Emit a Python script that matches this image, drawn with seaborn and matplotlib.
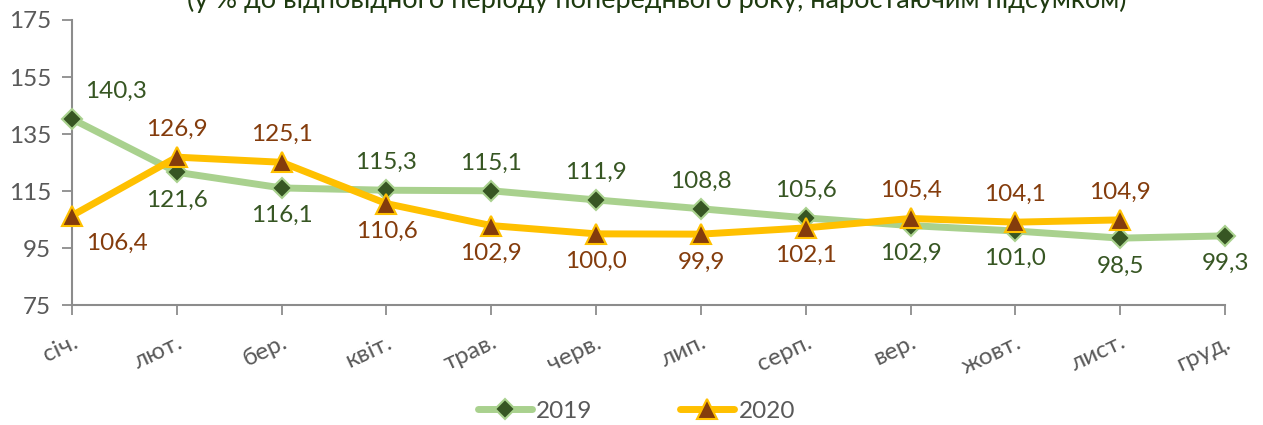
import matplotlib
matplotlib.use("Agg")
import matplotlib.pyplot as plt
import seaborn as sns
import pandas as pd

months = ["січ.", "лют.", "бер.", "квіт.", "трав.", "черв.",
          "лип.", "серп.", "вер.", "жовт.", "лист.", "груд."]
values_2019 = [140.3, 121.6, 116.1, 115.3, 115.1, 111.9, 108.8, 105.6, 102.9, 101.0, 98.5, 99.3]
values_2020 = [106.4, 126.9, 125.1, 110.6, 102.9, 100.0, 99.9, 102.1, 105.4, 104.1, 104.9]
# label placement: 1 above, -1 below
pos_2019 = [1, -1, -1, 1, 1, 1, 1, 1, -1, -1, -1, -1]
pos_2020 = [-1, 1, 1, -1, -1, -1, -1, -1, 1, 1, 1]
title = "(у % до відповідного періоду попереднього року, наростаючим підсумком)"

sns.set_theme(style="white")
plt.rcParams["font.family"] = ["Lato", "DejaVu Sans"]

df19 = pd.DataFrame({"x": range(len(values_2019)), "y": values_2019})
df20 = pd.DataFrame({"x": range(len(values_2020)), "y": values_2020})

fig = plt.figure(figsize=(12.63, 4.25), dpi=100)
ax = fig.add_axes([0.057, 0.282, 0.913, 0.671])

sns.lineplot(data=df19, x="x", y="y", ax=ax, color="#a9d18e", linewidth=5,
             marker="D", markersize=10, markerfacecolor="#375623",
             markeredgecolor="#a9d18e", markeredgewidth=1.5, label="2019",
             clip_on=False, zorder=3)
sns.lineplot(data=df20, x="x", y="y", ax=ax, color="#ffc000", linewidth=5,
             marker="^", markersize=14, markerfacecolor="#843c0c",
             markeredgecolor="#ffc000", markeredgewidth=1.5, label="2020",
             clip_on=False, zorder=4)

def fmt(v):
    return f"{v:.1f}".replace(".", ",")

for i, (v, p) in enumerate(zip(values_2019, pos_2019)):
    dx = 32 if i == 0 else 0
    ax.annotate(fmt(v), (i, v), xytext=(dx, 20 * p), textcoords="offset points",
                ha="center", va="center", fontsize=17.5, color="#375623")
for i, (v, p) in enumerate(zip(values_2020, pos_2020)):
    dx = 32 if i == 0 else 0
    ax.annotate(fmt(v), (i, v), xytext=(dx, 20 * p), textcoords="offset points",
                ha="center", va="center", fontsize=17.5, color="#843c0c")

ax.set_xlim(0, 11)
ax.set_ylim(75, 175)
ax.set_yticks(range(75, 176, 20))
ax.set_xticks(range(len(months)))
ax.set_xticklabels(months, rotation=25, ha="right", rotation_mode="anchor")
ax.set_xlabel("")
ax.set_ylabel("")
ax.tick_params(axis="both", bottom=True, left=True, colors="#8c8c8c",
               labelcolor="#595959", labelsize=17.5, length=7,
               direction="out", width=1.3)
ax.tick_params(axis="x", pad=12)
ax.tick_params(axis="y", pad=8)
for s in ["top", "right"]:
    ax.spines[s].set_visible(False)
for s in ["left", "bottom"]:
    ax.spines[s].set_color("#8c8c8c")
    ax.spines[s].set_linewidth(1.5)

ax.get_legend().remove()
handles, labels = ax.get_legend_handles_labels()
leg = fig.legend(handles, labels, loc="center", bbox_to_anchor=(0.504, 0.032),
                 ncol=2, frameon=False, fontsize=17.5, handlelength=2.2,
                 handletextpad=0.2, columnspacing=3.6)
for t in leg.get_texts():
    t.set_color("#595959")

# the title is partly cut off at the top edge, as in the source chart
fig.text(0.52, 1 - 8 / 425, title, ha="center", va="baseline",
         fontsize=19.5, color="#1e3a10")

fig.savefig("out.png", dpi=100)
